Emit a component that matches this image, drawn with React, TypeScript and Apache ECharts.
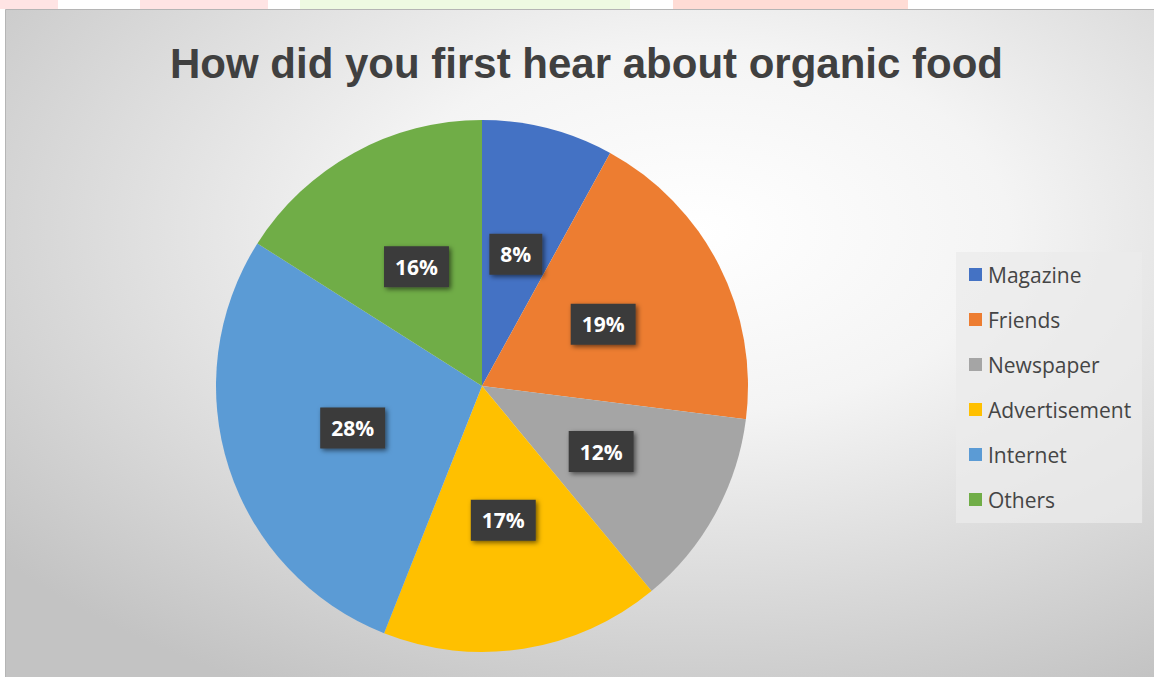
import React, { useEffect, useRef } from "react";
import * as echarts from "echarts";

const categories = ["Magazine", "Friends", "Newspaper", "Advertisement", "Internet", "Others"];
const values = [8, 19, 12, 17, 28, 16];
const colors = ["#4472C4", "#ED7D31", "#A5A5A5", "#FFC000", "#5B9BD5", "#70AD47"];
const titleText = "How did you first hear about organic food";

export default function App() {
  const ref = useRef<HTMLDivElement>(null);
  useEffect(() => {
    if (!ref.current) return;
    const chart = echarts.init(ref.current, null, { renderer: "svg" });
    const data = categories.map((name, i) => ({
      name,
      value: values[i],
      itemStyle: { color: colors[i] },
    }));
    chart.setOption({
      animation: false,
      backgroundColor: "#ffffff",
      graphic: [
        { type: "rect", z: -10, shape: { x: 0, y: 0, width: 58, height: 9 }, style: { fill: "#ffe4e4" } },
        { type: "rect", z: -10, shape: { x: 140, y: 0, width: 128, height: 9 }, style: { fill: "#ffe4e4" } },
        { type: "rect", z: -10, shape: { x: 300, y: 0, width: 330, height: 9 }, style: { fill: "#eefae2" } },
        { type: "rect", z: -10, shape: { x: 673, y: 0, width: 235, height: 9 }, style: { fill: "#ffdcd5" } },
        {
          type: "rect",
          z: -5,
          shape: { x: 5.5, y: 9.5, width: 1150, height: 668 },
          style: {
            stroke: "#b5b5b5",
            lineWidth: 1,
            fill: new echarts.graphic.RadialGradient(0.6, 0.33, 0.78, [
              { offset: 0, color: "#ffffff" },
              { offset: 0.35, color: "#f4f4f4" },
              { offset: 1, color: "#c3c3c3" },
            ]),
          },
        },
      ],
      title: {
        text: titleText,
        left: 165,
        top: 37,
        textStyle: {
          fontFamily: "Liberation Sans Narrow, Liberation Sans, sans-serif",
          fontWeight: "bold",
          fontSize: 42,
          color: "#404040",
        },
      },
      legend: {
        orient: "vertical",
        left: 956,
        top: 252,
        padding: [12, 11, 13, 13],
        backgroundColor: "rgba(235,235,235,0.75)",
        itemWidth: 13,
        itemHeight: 13,
        itemGap: 24,
        icon: "rect",
        data: categories,
        textStyle: {
          fontFamily: "Open Sans, sans-serif",
          fontSize: 21,
          lineHeight: 21,
          color: "#454545",
          padding: [0, 0, 0, 1],
        },
      },
      series: [
        {
          type: "pie",
          center: [482, 386],
          radius: [0, 266],
          startAngle: 90,
          clockwise: true,
          data,
          itemStyle: { borderWidth: 0 },
          label: {
            show: true,
            position: "inside",
            formatter: "{d}%",
            fontFamily: "Open Sans, sans-serif",
            fontWeight: "bold",
            fontSize: 21,
            color: "#ffffff",
            backgroundColor: "#3b3b3b",
            padding: [10, 11, 10, 11],
            shadowColor: "rgba(0,0,0,0.55)",
            shadowBlur: 5,
            shadowOffsetX: 2,
            shadowOffsetY: 2,
          },
          labelLine: { show: false },
        },
      ],
    });
    return () => chart.dispose();
  }, []);
  return (
    <div
      ref={ref}
      style={{ position: "fixed", left: 0, top: 0, width: 1154, height: 677 }}
    />
  );
}
